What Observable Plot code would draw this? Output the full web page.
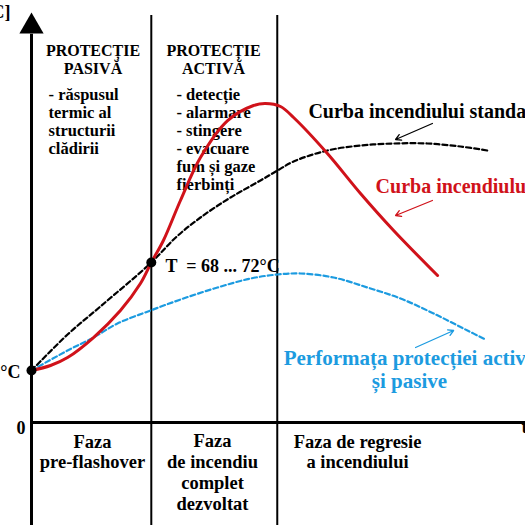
<!DOCTYPE html>
<html><head><meta charset="utf-8">
<script src="https://cdn.jsdelivr.net/npm/d3@7"></script>
<script src="https://cdn.jsdelivr.net/npm/@observablehq/plot@0.6"></script>
<style>html,body{margin:0;padding:0;background:#fff;overflow:hidden}</style>
</head><body><div id="chart"></div>
<script>
// phase boundaries (time units)
const phaseBounds = [4.85, 9.95];

// real fire curve
const realTime = [0, 0.77, 1.46, 2.51, 3.60, 4.41, 4.85, 5.34, 6.03, 6.84, 7.94, 8.99, 9.47, 10.08, 10.61, 11.98, 13.32, 14.66, 16.44];
const realTemp = [12.32, 13.51, 15.40, 20.14, 26.54, 32.94, 37.91, 43.13, 52.61, 62.80, 71.56, 75.12, 75.59, 74.88, 72.27, 63.74, 54.27, 45.50, 34.83];

// standard fire curve
const stdTime = [0, 1.46, 2.79, 4.85, 5.84, 6.84, 8.06, 9.27, 9.96, 10.61, 11.98, 13.32, 14.66, 16.03, 17.37, 18.46];
const stdTemp = [12.32, 20.85, 27.49, 37.91, 43.84, 48.58, 53.32, 57.35, 59.72, 61.85, 64.45, 65.64, 66.11, 66.11, 65.40, 64.45];

// performance of active & passive protection
const perfTime = [0, 1.46, 2.51, 3.48, 4.82, 6.15, 7.53, 8.87, 9.96, 10.89, 12.23, 13.60, 14.94, 16.28, 17.65, 18.38];
const perfTemp = [12.32, 17.06, 20.14, 23.46, 26.54, 29.38, 31.99, 34.12, 35.07, 35.31, 34.36, 31.99, 29.38, 25.83, 21.80, 19.67];

// key points (ambient, flashover)
const keyTime = [0, 4.85];
const keyTemp = [12.32, 37.91];

// texts
const headPassive = "PROTECȚIE\nPASIVĂ";
const headActive = "PROTECȚIE\nACTIVĂ";
const listPassive = "- răspusul\ntermic al\nstructurii\nclădirii";
const listActive = "- detecție\n- alarmare\n- stingere\n- evacuare\nfum și gaze\nfierbinți";
const phaseLabels = ["Faza\npre-flashover", "Faza\nde incendiu\ncomplet\ndezvoltat", "Faza de regresie\na incendiului"];
const labelStd = "Curba incendiului standard";
const labelReal = "Curba incendiului real";
const labelPerf = "Performața protecției active\nși pasive";
const labelT = "T  = 68 ... 72°C";
const labelAmb = "20°C";
const labelZero = "0";
const labelYAxis = "T [°C]";
const labelXAxis = "t";

const real = realTime.map((t, i) => ({t, v: realTemp[i]}));
const std = stdTime.map((t, i) => ({t, v: stdTemp[i]}));
const perf = perfTime.map((t, i) => ({t, v: perfTemp[i]}));
const keys = keyTime.map((t, i) => ({t, v: keyTemp[i]}));

const RED = "#d0121a", BLUE = "#1c9be0";
const FF = "'Liberation Serif','Times New Roman',serif";
const T = (txt, o) => Plot.text([txt], {text: d => d, fontFamily: FF, fontWeight: "bold", lineAnchor: "bottom", ...o});

const chart = Plot.plot({
  width: 525, height: 525,
  marginLeft: 31, marginRight: 0, marginTop: 0, marginBottom: 103,
  x: {domain: [0, 20], axis: null},
  y: {domain: [0, 100], axis: null},
  style: {background: "white", overflow: "visible"},
  marks: [
    // texts under curves
    T(headPassive, {x: 2.49, y: 82.7, fontSize: 16, lineHeight: 1.12, textAnchor: "middle"}),
    T(headActive, {x: 7.37, y: 82.7, fontSize: 16, lineHeight: 1.12, textAnchor: "middle"}),
    T(listPassive, {x: 0.69, y: 63.51, fontSize: 16.5, lineHeight: 1.1, textAnchor: "start"}),
    T(listActive, {x: 5.87, y: 55.21, fontSize: 16.5, lineHeight: 1.09, textAnchor: "start"}),
    T(phaseLabels[0], {x: 2.47, y: -10.9, fontSize: 18.5, lineHeight: 1.13, textAnchor: "middle"}),
    T(phaseLabels[1], {x: 7.33, y: -20.62, fontSize: 18.5, lineHeight: 1.12, textAnchor: "middle"}),
    T(phaseLabels[2], {x: 13.2, y: -10.9, fontSize: 18.5, lineHeight: 1.13, textAnchor: "middle"}),
    // separators and axes
    Plot.ruleX(phaseBounds, {y1: 96.45, y2: -24.4, stroke: "black", strokeWidth: 2}),
    Plot.ruleX([0], {y1: 92, y2: -24.4, stroke: "black", strokeWidth: 3}),
    Plot.ruleY([0], {x1: 0, x2: 20.2, stroke: "black", strokeWidth: 3}),
    Plot.dot([0], {x: 0, y: 93.84, symbol: "triangle", r: 9, fill: "black", stroke: "none"}),
    // curves
    Plot.line(std, {x: "t", y: "v", curve: "catmull-rom", stroke: "black", strokeWidth: 2.2, strokeDasharray: "5,3"}),
    Plot.line(perf, {x: "t", y: "v", curve: "catmull-rom", stroke: BLUE, strokeWidth: 2.2, strokeDasharray: "5,3"}),
    Plot.line(real, {x: "t", y: "v", curve: "catmull-rom", stroke: RED, strokeWidth: 3}),
    Plot.dot(keys, {x: "t", y: "v", r: 5, fill: "black", stroke: "none"}),
    // arrows
    Plot.arrow([0], {x1: 16.23, y1: 70.85, x2: 14.74, y2: 67.06, stroke: "black", strokeWidth: 1.3, headLength: 7}),
    Plot.arrow([0], {x1: 16.23, y1: 52.61, x2: 14.74, y2: 49.05, stroke: RED, strokeWidth: 1.3, headLength: 7}),
    Plot.arrow([0], {x1: 15.55, y1: 17.77, x2: 17.09, y2: 21.80, stroke: BLUE, strokeWidth: 1.3, headLength: 7}),
    // labels
    T(labelStd, {x: 11.21, y: 72.27, fontSize: 20, textAnchor: "start", fill: "black"}),
    T(labelReal, {x: 13.93, y: 54.27, fontSize: 20, textAnchor: "start", fill: RED}),
    T(labelPerf, {x: 15.3, y: 8.06, fontSize: 21, lineHeight: 1.1, textAnchor: "middle", fill: BLUE}),
    T(labelT, {x: 5.43, y: 35.78, fontSize: 18, textAnchor: "start"}),
    T(labelAmb, {x: -0.45, y: 10.66, fontSize: 18, textAnchor: "end"}),
    T(labelZero, {x: -0.24, y: -2.61, fontSize: 18, textAnchor: "end"}),
    T(labelYAxis, {x: -0.85, y: 95.97, fontSize: 18, textAnchor: "end"}),
    T(labelXAxis, {x: 19.84, y: -2.37, fontSize: 18, textAnchor: "start"})
  ]
});
document.getElementById("chart").appendChild(chart);
</script>
</body></html>
